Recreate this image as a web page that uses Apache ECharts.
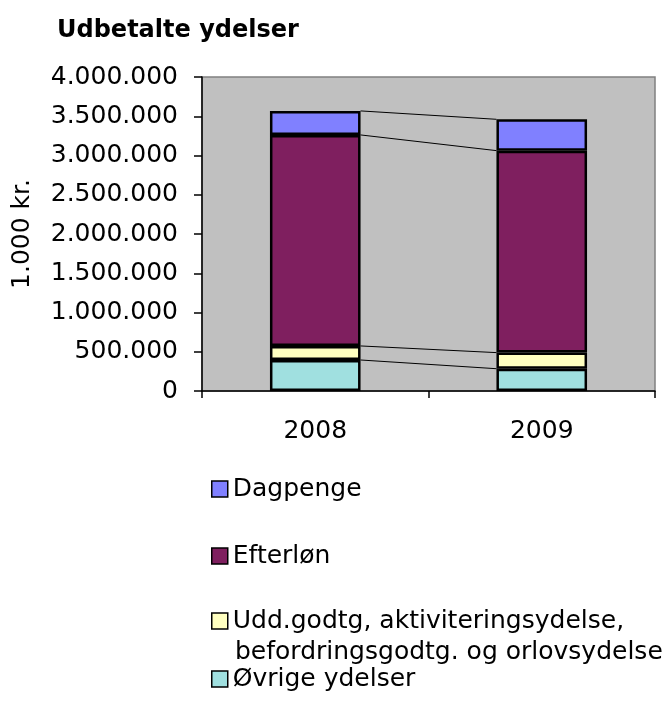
<!DOCTYPE html>
<html>
<head>
<meta charset="utf-8">
<script src="https://cdn.jsdelivr.net/npm/echarts@6/dist/echarts.min.js"></script>
<style>
html,body{margin:0;padding:0;background:#fff;}
#chart{width:671px;height:705px;}
</style>
</head>
<body>
<div id="chart"></div>
<script>
const categories = ['2008', '2009'];
const ovrige   = [395000, 284000];
const udd      = [179000, 205000];
const efterlon = [2688000, 2573000];
const dagpenge = [306000, 399000];
const yTicks = { min: 0, max: 4000000, interval: 500000 };

const names = {
  dag: 'Dagpenge',
  eft: 'Efterløn',
  udd: 'Udd.godtg, aktiviteringsydelse, befordringsgodtg. og orlovsydelse',
  ovr: 'Øvrige ydelser'
};
const uddLine1 = 'Udd.godtg, aktiviteringsydelse,';
const uddLine2 = 'befordringsgodtg. og orlovsydelse';
const colors = { dag: '#8080FF', eft: '#7F1F5F', udd: '#FFFFC0', ovr: '#A0E0E0' };

const FONT = 'DejaVu Sans';
const FS = 25;
const stackOrder = [ovrige, udd, efterlon, dagpenge];
const lineData = [];
let cum = [0, 0];
stackOrder.forEach(arr => {
  cum = [cum[0] + arr[0], cum[1] + arr[1]];
  lineData.push([0, cum[0], cum[1]]);
});

function fmt(v) {
  return String(v).replace(/\B(?=(\d{3})+(?!\d))/g, '.');
}

function barSeries(key, data) {
  return {
    name: names[key],
    type: 'bar',
    stack: 'total',
    barWidth: '40%',
    data: data,
    itemStyle: { color: colors[key], borderColor: '#000', borderWidth: 2.5 },
    emphasis: { disabled: true },
    z: 3
  };
}

function legendFor(key, top, formatter) {
  const l = {
    data: [names[key]],
    left: 211,
    top: top,
    padding: 0,
    orient: 'vertical',
    itemWidth: 16,
    itemHeight: 16,
    itemGap: 0,
    selectedMode: false,
    icon: 'rect',
    itemStyle: { color: colors[key], borderColor: '#000', borderWidth: 1.5 },
    textStyle: { fontFamily: FONT, fontSize: FS, color: '#000', lineHeight: 28 }
  };
  if (formatter) l.formatter = formatter;
  return l;
}

const chart = echarts.init(document.getElementById('chart'), null, { renderer: 'canvas' });
chart.setOption({
  animation: false,
  backgroundColor: '#fff',
  title: {
    text: 'Udbetalte ydelser',
    left: 57,
    top: 19,
    padding: 0,
    textStyle: { fontFamily: FONT, fontWeight: 'bold', fontSize: 24, color: '#000' }
  },
  grid: {
    left: 202, right: 16, top: 77, bottom: 314,
    show: true, backgroundColor: '#C0C0C0', borderColor: '#808080', borderWidth: 1.5
  },
  legend: [
    legendFor('dag', 475),
    legendFor('eft', 542),
    legendFor('udd', 607, function () { return uddLine1; }),
    legendFor('ovr', 665)
  ],
  graphic: [{
    type: 'text',
    left: 235,
    top: 638,
    silent: true,
    style: { text: uddLine2, fontFamily: FONT, fontSize: FS, fill: '#000', lineHeight: 28 }
  }],
  xAxis: {
    type: 'category',
    data: categories,
    boundaryGap: true,
    axisLine: { show: true, lineStyle: { color: '#000', width: 1.5 } },
    axisTick: { show: true, alignWithLabel: false, length: 7, lineStyle: { color: '#000', width: 1.5 } },
    axisLabel: { fontFamily: FONT, fontSize: FS, color: '#000', margin: 28 },
    splitLine: { show: false }
  },
  yAxis: {
    type: 'value',
    min: yTicks.min, max: yTicks.max, interval: yTicks.interval,
    name: '1.000 kr.',
    nameLocation: 'middle',
    nameGap: 167,
    nameTextStyle: { fontFamily: FONT, fontSize: FS, color: '#000' },
    axisLine: { show: true, lineStyle: { color: '#000', width: 1.5 } },
    axisTick: { show: true, length: 8, lineStyle: { color: '#000', width: 1.5 } },
    axisLabel: { fontFamily: FONT, fontSize: FS, color: '#000', margin: 24, formatter: fmt },
    splitLine: { show: false }
  },
  series: [
    barSeries('ovr', ovrige),
    barSeries('udd', udd),
    barSeries('eft', efterlon),
    barSeries('dag', dagpenge),
    {
      type: 'custom',
      name: 'serieslines',
      data: lineData,
      silent: true,
      z: 2,
      renderItem: function (params, api) {
        const p1 = api.coord([0, api.value(1)]);
        const p2 = api.coord([1, api.value(2)]);
        const hw = api.size([1, 0])[0] * 0.4 / 2;
        return {
          type: 'line',
          shape: { x1: p1[0] + hw, y1: p1[1], x2: p2[0] - hw, y2: p2[1] },
          style: { stroke: '#000', lineWidth: 1 }
        };
      }
    }
  ]
});
</script>
</body>
</html>
